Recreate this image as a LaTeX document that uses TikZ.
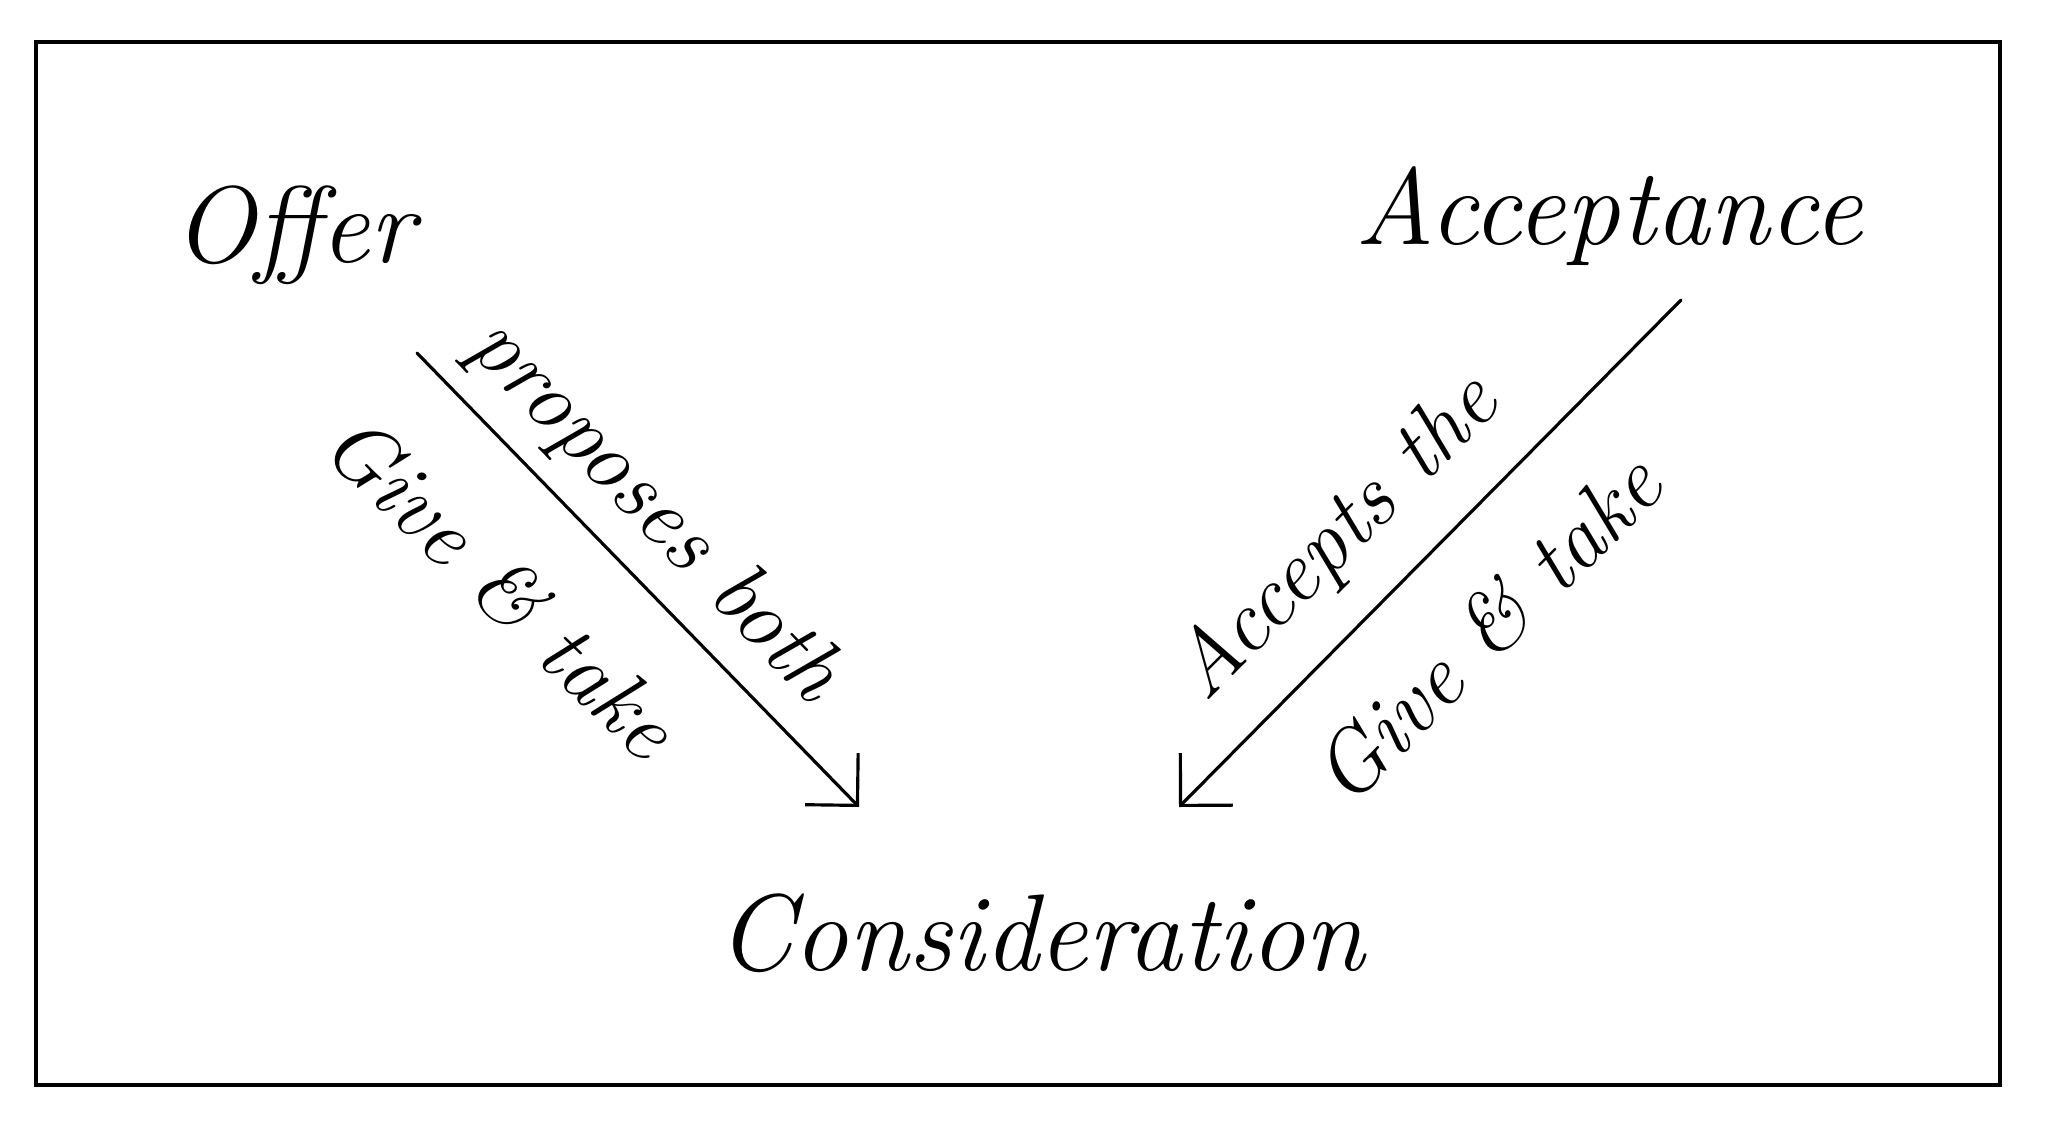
\documentclass[tikz,border=0pt]{standalone}
\usetikzlibrary{arrows.meta}
\begin{document}
\begin{tikzpicture}[x=0.01cm,y=-0.01cm,
  frame/.style={line width=1.2pt},
  conn/.style={line width=0.9pt,line cap=round,-{Straight Barb[length=3.7mm,width=7.4mm]}},
  big/.style={font=\itshape\fontsize{31}{36}\selectfont, inner sep=0pt},
  lab/.style={font=\itshape\fontsize{25}{30}\selectfont, inner sep=0pt}]
\useasboundingbox (0,0) rectangle (2048,1127);
\draw[frame] (36,42) rectangle (2000,1085);
\node[big,anchor=base] (offer) at (294,262) {Offer};
\node[big,anchor=base] (accept) at (1609,244) {Acceptance};
\node[big,anchor=base] (consid) at (1041,970) {Consideration};
\coordinate (a1s) at (417,353);
\coordinate (a1e) at (859,807);
\coordinate (a2s) at (1681,300);
\coordinate (a2e) at (1179,807);
\draw[conn] (a1s) -- (a1e);
\draw[conn] (a2s) -- (a2e);
\node[lab,rotate=-46] (l1) at (654,512) {proposes both};
\node[lab,rotate=-44] (l2) at (502,585) {Give \& take};
\node[lab,rotate=45] (l3) at (1338,539) {Accepts the};
\node[lab,rotate=45] (l4) at (1486,628) {Give \& take};
\end{tikzpicture}
\end{document}
